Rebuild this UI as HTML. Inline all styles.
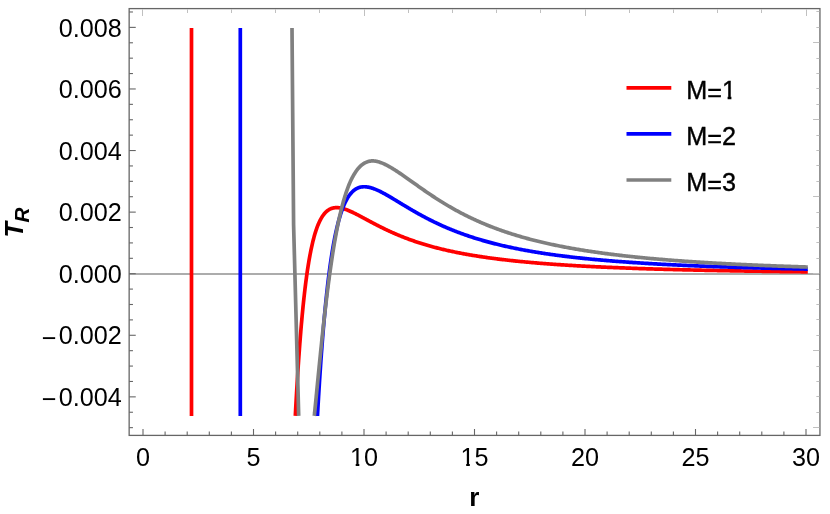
<!DOCTYPE html>
<html><head><meta charset="utf-8"><title>Plot</title>
<style>html,body{margin:0;padding:0;background:#fff;}svg{display:block;will-change:transform;}</style></head>
<body>
<svg width="830" height="514" viewBox="0 0 830 514">
<rect x="0" y="0" width="830" height="514" fill="#ffffff"/>
<line x1="129.15" y1="273.9" x2="819.95" y2="273.9" stroke="#909090" stroke-width="1.45"/>
<path d="M191.5,28.0 L191.5,415.9" fill="none" stroke="#ff0000" stroke-width="3.7" stroke-linecap="butt" stroke-linejoin="round"/>
<path d="M295.32,415.90 L295.33,415.80 L295.34,415.55 L295.36,415.18 L295.38,414.70 L295.41,414.10 L295.45,413.41 L295.49,412.62 L295.54,411.74 L295.59,410.76 L295.64,409.71 L295.70,408.57 L295.77,407.35 L295.84,406.05 L295.91,404.68 L295.99,403.24 L296.08,401.73 L296.16,400.16 L296.25,398.52 L296.35,396.82 L296.45,395.06 L296.55,393.25 L296.66,391.38 L296.77,389.47 L296.89,387.50 L297.01,385.49 L297.13,383.43 L297.26,381.34 L297.39,379.20 L297.52,377.03 L297.66,374.82 L297.80,372.58 L297.95,370.31 L298.10,368.01 L298.25,365.69 L298.41,363.34 L298.57,360.97 L298.73,358.59 L298.90,356.18 L299.07,353.76 L299.25,351.33 L299.43,348.88 L299.61,346.43 L299.79,343.96 L299.98,341.49 L300.17,339.02 L300.37,336.54 L300.57,334.07 L300.77,331.59 L300.98,329.12 L301.19,326.65 L301.40,324.19 L301.62,321.74 L301.84,319.29 L302.06,316.85 L302.29,314.43 L302.52,312.02 L302.75,309.62 L302.98,307.24 L303.22,304.87 L303.47,302.52 L303.71,300.19 L303.96,297.88 L304.22,295.60 L304.47,293.33 L304.73,291.09 L304.99,288.87 L305.26,286.67 L305.53,284.50 L305.80,282.36 L306.07,280.24 L306.35,278.15 L306.63,276.09 L306.92,274.05 L307.20,272.05 L307.49,270.08 L307.79,268.13 L308.08,266.22 L308.38,264.34 L308.69,262.49 L308.99,260.67 L309.30,258.89 L309.62,257.13 L309.93,255.41 L310.25,253.72 L310.57,252.07 L310.89,250.45 L311.22,248.86 L311.55,247.30 L311.89,245.78 L312.22,244.30 L312.56,242.84 L312.90,241.42 L313.25,240.03 L313.60,238.68 L313.95,237.36 L314.30,236.07 L314.66,234.82 L315.02,233.60 L315.39,232.41 L315.75,231.25 L316.12,230.13 L316.49,229.04 L316.87,227.98 L317.25,226.95 L317.63,225.95 L318.01,224.99 L318.40,224.05 L318.79,223.15 L319.18,222.27 L319.58,221.43 L319.97,220.62 L320.38,219.83 L320.78,219.07 L321.19,218.35 L321.60,217.65 L322.01,216.97 L322.43,216.33 L322.84,215.71 L323.26,215.12 L323.69,214.55 L324.12,214.01 L324.55,213.50 L324.98,213.01 L325.41,212.54 L325.85,212.10 L326.29,211.69 L326.74,211.29 L327.18,210.92 L327.63,210.57 L328.09,210.24 L328.54,209.94 L329.00,209.65 L329.46,209.39 L329.92,209.15 L330.39,208.92 L330.86,208.72 L331.33,208.53 L331.80,208.37 L332.28,208.22 L332.76,208.08 L333.24,207.97 L333.73,207.87 L334.22,207.79 L334.71,207.73 L335.20,207.68 L335.70,207.65 L336.20,207.63 L336.70,207.62 L337.20,207.63 L337.71,207.66 L338.22,207.69 L338.73,207.74 L339.25,207.81 L339.77,207.88 L340.29,207.97 L340.81,208.07 L341.34,208.18 L341.87,208.30 L342.40,208.43 L342.93,208.57 L343.47,208.73 L344.01,208.89 L344.55,209.06 L345.10,209.24 L345.65,209.43 L346.20,209.62 L346.75,209.83 L347.30,210.04 L347.86,210.26 L348.42,210.49 L348.99,210.72 L349.55,210.96 L350.12,211.21 L350.69,211.47 L351.27,211.73 L351.84,211.99 L352.42,212.26 L353.01,212.54 L353.59,212.82 L354.18,213.11 L354.77,213.40 L355.36,213.70 L355.96,214.00 L356.55,214.30 L357.15,214.61 L357.76,214.92 L358.36,215.24 L358.97,215.55 L359.58,215.87 L360.19,216.20 L360.81,216.52 L361.43,216.85 L362.05,217.19 L362.67,217.52 L363.30,217.86 L363.93,218.19 L364.56,218.53 L365.19,218.87 L365.83,219.22 L366.47,219.56 L367.11,219.91 L367.75,220.25 L368.40,220.60 L369.05,220.95 L369.70,221.30 L370.36,221.65 L371.01,222.00 L371.67,222.35 L372.33,222.70 L373.00,223.05 L373.67,223.40 L374.34,223.75 L375.01,224.10 L375.68,224.45 L376.36,224.80 L377.04,225.15 L377.72,225.50 L378.41,225.85 L379.09,226.20 L379.78,226.55 L380.48,226.90 L381.17,227.25 L381.87,227.59 L382.57,227.94 L383.27,228.28 L383.98,228.63 L384.68,228.97 L385.39,229.31 L386.11,229.65 L386.82,229.99 L387.54,230.33 L388.26,230.66 L388.98,231.00 L389.70,231.33 L390.43,231.66 L391.16,231.99 L391.89,232.32 L392.63,232.65 L393.37,232.98 L394.10,233.30 L394.85,233.63 L395.59,233.95 L396.34,234.27 L397.09,234.59 L397.84,234.90 L398.59,235.22 L399.35,235.53 L400.11,235.84 L400.87,236.15 L401.64,236.46 L402.40,236.76 L403.17,237.07 L403.94,237.37 L404.72,237.67 L405.49,237.97 L406.27,238.27 L407.06,238.56 L407.84,238.85 L408.63,239.14 L409.41,239.43 L410.20,239.72 L411.00,240.00 L411.79,240.29 L412.59,240.57 L413.39,240.85 L414.20,241.12 L415.00,241.40 L415.81,241.67 L416.62,241.94 L417.43,242.21 L418.25,242.48 L419.07,242.75 L419.89,243.01 L420.71,243.27 L421.53,243.53 L422.36,243.79 L423.19,244.04 L424.02,244.30 L424.86,244.55 L425.70,244.80 L426.53,245.05 L427.38,245.29 L428.22,245.54 L429.07,245.78 L429.92,246.02 L430.77,246.26 L431.62,246.49 L432.48,246.73 L433.33,246.96 L434.20,247.19 L435.06,247.42 L435.92,247.65 L436.79,247.87 L437.66,248.10 L438.54,248.32 L439.41,248.54 L440.29,248.76 L441.17,248.97 L442.05,249.19 L442.93,249.40 L443.82,249.61 L444.71,249.82 L445.60,250.02 L446.50,250.23 L447.39,250.43 L448.29,250.64 L449.19,250.84 L450.10,251.03 L451.00,251.23 L451.91,251.43 L452.82,251.62 L453.73,251.81 L454.65,252.00 L455.56,252.19 L456.48,252.38 L457.41,252.56 L458.33,252.75 L459.26,252.93 L460.19,253.11 L461.12,253.29 L462.05,253.47 L462.99,253.64 L463.93,253.82 L464.87,253.99 L465.81,254.16 L466.76,254.33 L467.70,254.50 L468.65,254.66 L469.61,254.83 L470.56,254.99 L471.52,255.16 L472.48,255.32 L473.44,255.48 L474.40,255.63 L475.37,255.79 L476.34,255.95 L477.31,256.10 L478.28,256.25 L479.26,256.40 L480.23,256.55 L481.21,256.70 L482.20,256.85 L483.18,257.00 L484.17,257.14 L485.16,257.28 L486.15,257.43 L487.14,257.57 L488.14,257.71 L489.14,257.85 L490.14,257.98 L491.14,258.12 L492.15,258.25 L493.16,258.39 L494.17,258.52 L495.18,258.65 L496.19,258.78 L497.21,258.91 L498.23,259.04 L499.25,259.16 L500.27,259.29 L501.30,259.41 L502.33,259.54 L503.36,259.66 L504.39,259.78 L505.43,259.90 L506.46,260.02 L507.50,260.14 L508.54,260.25 L509.59,260.37 L510.63,260.48 L511.68,260.60 L512.73,260.71 L513.79,260.82 L514.84,260.93 L515.90,261.04 L516.96,261.15 L518.02,261.26 L519.09,261.36 L520.15,261.47 L521.22,261.57 L522.29,261.68 L523.37,261.78 L524.44,261.88 L525.52,261.99 L526.60,262.09 L527.68,262.18 L528.77,262.28 L529.85,262.38 L530.94,262.48 L532.03,262.57 L533.13,262.67 L534.22,262.76 L535.32,262.86 L536.42,262.95 L537.53,263.04 L538.63,263.13 L539.74,263.22 L540.85,263.31 L541.96,263.40 L543.07,263.49 L544.19,263.57 L545.31,263.66 L546.43,263.75 L547.55,263.83 L548.67,263.92 L549.80,264.00 L550.93,264.08 L552.06,264.16 L553.20,264.24 L554.33,264.32 L555.47,264.40 L556.61,264.48 L557.75,264.56 L558.90,264.64 L560.05,264.72 L561.19,264.79 L562.35,264.87 L563.50,264.94 L564.66,265.02 L565.81,265.09 L566.97,265.16 L568.14,265.24 L569.30,265.31 L570.47,265.38 L571.64,265.45 L572.81,265.52 L573.98,265.59 L575.16,265.66 L576.34,265.73 L577.52,265.79 L578.70,265.86 L579.88,265.93 L581.07,265.99 L582.26,266.06 L583.45,266.12 L584.64,266.19 L585.84,266.25 L587.04,266.31 L588.24,266.38 L589.44,266.44 L590.64,266.50 L591.85,266.56 L593.06,266.62 L594.27,266.68 L595.48,266.74 L596.70,266.80 L597.92,266.86 L599.14,266.91 L600.36,266.97 L601.58,267.03 L602.81,267.08 L604.04,267.14 L605.27,267.20 L606.50,267.25 L607.73,267.30 L608.97,267.36 L610.21,267.41 L611.45,267.47 L612.69,267.52 L613.94,267.57 L615.19,267.62 L616.44,267.67 L617.69,267.72 L618.94,267.77 L620.20,267.82 L621.46,267.87 L622.72,267.92 L623.98,267.97 L625.25,268.02 L626.52,268.07 L627.79,268.12 L629.06,268.16 L630.33,268.21 L631.61,268.26 L632.88,268.30 L634.17,268.35 L635.45,268.39 L636.73,268.44 L638.02,268.48 L639.31,268.53 L640.60,268.57 L641.89,268.61 L643.19,268.66 L644.48,268.70 L645.78,268.74 L647.09,268.78 L648.39,268.82 L649.70,268.87 L651.00,268.91 L652.31,268.95 L653.63,268.99 L654.94,269.03 L656.26,269.07 L657.58,269.11 L658.90,269.15 L660.22,269.18 L661.55,269.22 L662.87,269.26 L664.20,269.30 L665.54,269.33 L666.87,269.37 L668.21,269.41 L669.54,269.44 L670.88,269.48 L672.23,269.52 L673.57,269.55 L674.92,269.59 L676.27,269.62 L677.62,269.66 L678.97,269.69 L680.33,269.73 L681.68,269.76 L683.04,269.79 L684.40,269.83 L685.77,269.86 L687.13,269.89 L688.50,269.92 L689.87,269.96 L691.24,269.99 L692.62,270.02 L693.99,270.05 L695.37,270.08 L696.75,270.11 L698.13,270.14 L699.52,270.17 L700.91,270.20 L702.30,270.23 L703.69,270.26 L705.08,270.29 L706.47,270.32 L707.87,270.35 L709.27,270.38 L710.67,270.41 L712.08,270.44 L713.48,270.46 L714.89,270.49 L716.30,270.52 L717.71,270.55 L719.13,270.57 L720.54,270.60 L721.96,270.63 L723.38,270.65 L724.81,270.68 L726.23,270.71 L727.66,270.73 L729.09,270.76 L730.52,270.78 L731.95,270.81 L733.39,270.83 L734.82,270.86 L736.26,270.88 L737.70,270.91 L739.15,270.93 L740.59,270.95 L742.04,270.98 L743.49,271.00 L744.94,271.03 L746.40,271.05 L747.85,271.07 L749.31,271.09 L750.77,271.12 L752.23,271.14 L753.70,271.16 L755.16,271.18 L756.63,271.21 L758.10,271.23 L759.58,271.25 L761.05,271.27 L762.53,271.29 L764.01,271.31 L765.49,271.33 L766.97,271.35 L768.46,271.37 L769.94,271.39 L771.43,271.41 L772.93,271.43 L774.42,271.45 L775.91,271.47 L777.41,271.49 L778.91,271.51 L780.41,271.53 L781.92,271.55 L783.42,271.57 L784.93,271.59 L786.44,271.61 L787.95,271.63 L789.47,271.64 L790.98,271.66 L792.50,271.68 L794.02,271.70 L795.55,271.72 L797.07,271.73 L798.60,271.75 L800.13,271.77 L801.66,271.79 L803.19,271.80 L804.72,271.82 L806.26,271.84 L807.80,271.85" fill="none" stroke="#ff0000" stroke-width="3.7" stroke-linecap="butt" stroke-linejoin="round"/>
<path d="M240.3,28.0 L240.3,415.9" fill="none" stroke="#0000ff" stroke-width="3.7" stroke-linecap="butt" stroke-linejoin="round"/>
<path d="M317.47,415.90 L317.47,415.81 L317.48,415.59 L317.50,415.26 L317.53,414.82 L317.55,414.29 L317.59,413.66 L317.63,412.95 L317.67,412.15 L317.72,411.28 L317.78,410.32 L317.83,409.29 L317.90,408.19 L317.96,407.02 L318.03,405.78 L318.11,404.47 L318.19,403.10 L318.27,401.67 L318.36,400.17 L318.45,398.62 L318.54,397.02 L318.64,395.36 L318.75,393.64 L318.85,391.88 L318.96,390.07 L319.08,388.22 L319.20,386.32 L319.32,384.37 L319.44,382.39 L319.57,380.37 L319.70,378.31 L319.84,376.22 L319.98,374.09 L320.12,371.93 L320.27,369.75 L320.42,367.53 L320.57,365.29 L320.73,363.02 L320.89,360.73 L321.06,358.42 L321.22,356.09 L321.39,353.74 L321.57,351.38 L321.75,349.00 L321.93,346.61 L322.11,344.20 L322.30,341.79 L322.49,339.37 L322.68,336.94 L322.88,334.50 L323.08,332.06 L323.28,329.62 L323.49,327.18 L323.70,324.73 L323.91,322.29 L324.13,319.85 L324.35,317.41 L324.57,314.98 L324.80,312.55 L325.03,310.13 L325.26,307.72 L325.50,305.32 L325.73,302.93 L325.98,300.55 L326.22,298.18 L326.47,295.82 L326.72,293.48 L326.97,291.16 L327.23,288.85 L327.49,286.56 L327.75,284.29 L328.02,282.03 L328.29,279.80 L328.56,277.58 L328.84,275.39 L329.11,273.22 L329.39,271.06 L329.68,268.94 L329.97,266.83 L330.26,264.75 L330.55,262.70 L330.84,260.67 L331.14,258.66 L331.44,256.68 L331.75,254.73 L332.06,252.80 L332.37,250.90 L332.68,249.03 L333.00,247.19 L333.32,245.37 L333.64,243.59 L333.96,241.83 L334.29,240.10 L334.62,238.40 L334.95,236.72 L335.29,235.08 L335.63,233.47 L335.97,231.89 L336.32,230.33 L336.66,228.81 L337.01,227.32 L337.37,225.85 L337.72,224.42 L338.08,223.01 L338.44,221.64 L338.81,220.30 L339.18,218.98 L339.55,217.70 L339.92,216.44 L340.30,215.22 L340.67,214.02 L341.05,212.86 L341.44,211.72 L341.83,210.61 L342.21,209.53 L342.61,208.48 L343.00,207.46 L343.40,206.47 L343.80,205.50 L344.20,204.57 L344.61,203.66 L345.02,202.78 L345.43,201.92 L345.84,201.10 L346.26,200.29 L346.68,199.52 L347.10,198.77 L347.52,198.05 L347.95,197.36 L348.38,196.69 L348.81,196.04 L349.25,195.42 L349.69,194.83 L350.13,194.25 L350.57,193.71 L351.02,193.18 L351.47,192.68 L351.92,192.20 L352.37,191.75 L352.83,191.32 L353.29,190.90 L353.75,190.52 L354.21,190.15 L354.68,189.80 L355.15,189.47 L355.62,189.17 L356.10,188.88 L356.58,188.62 L357.06,188.37 L357.54,188.14 L358.02,187.93 L358.51,187.74 L359.00,187.57 L359.50,187.41 L359.99,187.28 L360.49,187.15 L360.99,187.05 L361.50,186.96 L362.00,186.89 L362.51,186.83 L363.02,186.79 L363.54,186.77 L364.05,186.75 L364.57,186.76 L365.09,186.77 L365.62,186.80 L366.14,186.85 L366.67,186.91 L367.20,186.98 L367.74,187.06 L368.27,187.15 L368.81,187.26 L369.35,187.38 L369.90,187.51 L370.45,187.65 L371.00,187.80 L371.55,187.96 L372.10,188.13 L372.66,188.32 L373.22,188.51 L373.78,188.71 L374.34,188.92 L374.91,189.14 L375.48,189.37 L376.05,189.60 L376.63,189.85 L377.20,190.10 L377.78,190.36 L378.36,190.63 L378.95,190.90 L379.54,191.18 L380.12,191.47 L380.72,191.77 L381.31,192.07 L381.91,192.37 L382.51,192.69 L383.11,193.01 L383.71,193.33 L384.32,193.66 L384.93,193.99 L385.54,194.33 L386.15,194.68 L386.77,195.03 L387.39,195.38 L388.01,195.73 L388.63,196.10 L389.26,196.46 L389.89,196.83 L390.52,197.20 L391.15,197.57 L391.79,197.95 L392.43,198.33 L393.07,198.72 L393.71,199.10 L394.36,199.49 L395.00,199.88 L395.65,200.28 L396.31,200.67 L396.96,201.07 L397.62,201.47 L398.28,201.87 L398.94,202.27 L399.61,202.68 L400.27,203.08 L400.94,203.49 L401.62,203.90 L402.29,204.31 L402.97,204.72 L403.65,205.13 L404.33,205.54 L405.01,205.95 L405.70,206.36 L406.39,206.78 L407.08,207.19 L407.77,207.60 L408.47,208.01 L409.17,208.43 L409.87,208.84 L410.57,209.25 L411.27,209.67 L411.98,210.08 L412.69,210.49 L413.40,210.90 L414.12,211.32 L414.84,211.73 L415.56,212.14 L416.28,212.55 L417.00,212.96 L417.73,213.36 L418.46,213.77 L419.19,214.18 L419.92,214.58 L420.66,214.99 L421.40,215.39 L422.14,215.79 L422.88,216.19 L423.62,216.59 L424.37,216.99 L425.12,217.39 L425.87,217.78 L426.63,218.18 L427.39,218.57 L428.15,218.96 L428.91,219.35 L429.67,219.74 L430.44,220.13 L431.21,220.51 L431.98,220.90 L432.75,221.28 L433.52,221.66 L434.30,222.04 L435.08,222.42 L435.86,222.79 L436.65,223.16 L437.44,223.53 L438.23,223.90 L439.02,224.27 L439.81,224.64 L440.61,225.00 L441.41,225.36 L442.21,225.72 L443.01,226.08 L443.82,226.44 L444.62,226.79 L445.43,227.15 L446.24,227.50 L447.06,227.84 L447.88,228.19 L448.70,228.54 L449.52,228.88 L450.34,229.22 L451.17,229.56 L451.99,229.89 L452.82,230.23 L453.66,230.56 L454.49,230.89 L455.33,231.22 L456.17,231.54 L457.01,231.87 L457.85,232.19 L458.70,232.51 L459.55,232.82 L460.40,233.14 L461.25,233.45 L462.11,233.76 L462.97,234.07 L463.83,234.38 L464.69,234.69 L465.55,234.99 L466.42,235.29 L467.29,235.59 L468.16,235.88 L469.03,236.18 L469.91,236.47 L470.79,236.76 L471.67,237.05 L472.55,237.34 L473.43,237.62 L474.32,237.90 L475.21,238.18 L476.10,238.46 L476.99,238.74 L477.89,239.01 L478.79,239.28 L479.69,239.55 L480.59,239.82 L481.49,240.09 L482.40,240.35 L483.31,240.61 L484.22,240.87 L485.13,241.13 L486.05,241.39 L486.97,241.64 L487.89,241.89 L488.81,242.15 L489.73,242.39 L490.66,242.64 L491.59,242.88 L492.52,243.13 L493.45,243.37 L494.39,243.61 L495.33,243.84 L496.27,244.08 L497.21,244.31 L498.15,244.54 L499.10,244.77 L500.05,245.00 L501.00,245.23 L501.95,245.45 L502.91,245.68 L503.87,245.90 L504.83,246.12 L505.79,246.33 L506.75,246.55 L507.72,246.76 L508.69,246.97 L509.66,247.18 L510.63,247.39 L511.61,247.60 L512.58,247.81 L513.56,248.01 L514.54,248.21 L515.53,248.41 L516.51,248.61 L517.50,248.81 L518.49,249.00 L519.48,249.20 L520.48,249.39 L521.48,249.58 L522.47,249.77 L523.48,249.96 L524.48,250.14 L525.48,250.33 L526.49,250.51 L527.50,250.69 L528.51,250.87 L529.53,251.05 L530.54,251.23 L531.56,251.40 L532.58,251.58 L533.61,251.75 L534.63,251.92 L535.66,252.09 L536.69,252.26 L537.72,252.43 L538.75,252.59 L539.79,252.76 L540.82,252.92 L541.86,253.08 L542.91,253.24 L543.95,253.40 L545.00,253.56 L546.05,253.71 L547.10,253.87 L548.15,254.02 L549.20,254.18 L550.26,254.33 L551.32,254.48 L552.38,254.62 L553.45,254.77 L554.51,254.92 L555.58,255.06 L556.65,255.21 L557.72,255.35 L558.80,255.49 L559.87,255.63 L560.95,255.77 L562.03,255.91 L563.11,256.04 L564.20,256.18 L565.28,256.31 L566.37,256.45 L567.47,256.58 L568.56,256.71 L569.65,256.84 L570.75,256.97 L571.85,257.09 L572.95,257.22 L574.06,257.35 L575.16,257.47 L576.27,257.59 L577.38,257.72 L578.49,257.84 L579.61,257.96 L580.72,258.08 L581.84,258.20 L582.96,258.31 L584.09,258.43 L585.21,258.54 L586.34,258.66 L587.47,258.77 L588.60,258.88 L589.73,259.00 L590.87,259.11 L592.01,259.22 L593.15,259.33 L594.29,259.43 L595.43,259.54 L596.58,259.65 L597.73,259.75 L598.88,259.86 L600.03,259.96 L601.18,260.06 L602.34,260.16 L603.50,260.26 L604.66,260.36 L605.82,260.46 L606.99,260.56 L608.15,260.66 L609.32,260.76 L610.49,260.85 L611.67,260.95 L612.84,261.04 L614.02,261.13 L615.20,261.23 L616.38,261.32 L617.56,261.41 L618.75,261.50 L619.94,261.59 L621.13,261.68 L622.32,261.77 L623.51,261.85 L624.71,261.94 L625.91,262.03 L627.11,262.11 L628.31,262.20 L629.51,262.28 L630.72,262.36 L631.93,262.45 L633.14,262.53 L634.35,262.61 L635.56,262.69 L636.78,262.77 L638.00,262.85 L639.22,262.93 L640.44,263.00 L641.67,263.08 L642.90,263.16 L644.12,263.23 L645.36,263.31 L646.59,263.38 L647.82,263.46 L649.06,263.53 L650.30,263.61 L651.54,263.68 L652.79,263.75 L654.03,263.82 L655.28,263.89 L656.53,263.96 L657.78,264.03 L659.03,264.10 L660.29,264.17 L661.55,264.24 L662.81,264.30 L664.07,264.37 L665.33,264.43 L666.60,264.50 L667.87,264.57 L669.14,264.63 L670.41,264.69 L671.68,264.76 L672.96,264.82 L674.24,264.88 L675.52,264.94 L676.80,265.01 L678.08,265.07 L679.37,265.13 L680.66,265.19 L681.95,265.25 L683.24,265.31 L684.54,265.36 L685.83,265.42 L687.13,265.48 L688.43,265.54 L689.74,265.59 L691.04,265.65 L692.35,265.71 L693.66,265.76 L694.97,265.82 L696.28,265.87 L697.59,265.92 L698.91,265.98 L700.23,266.03 L701.55,266.08 L702.87,266.14 L704.20,266.19 L705.53,266.24 L706.85,266.29 L708.19,266.34 L709.52,266.39 L710.85,266.44 L712.19,266.49 L713.53,266.54 L714.87,266.59 L716.21,266.64 L717.56,266.69 L718.91,266.73 L720.25,266.78 L721.61,266.83 L722.96,266.87 L724.31,266.92 L725.67,266.97 L727.03,267.01 L728.39,267.06 L729.75,267.10 L731.12,267.15 L732.49,267.19 L733.86,267.23 L735.23,267.28 L736.60,267.32 L737.98,267.36 L739.35,267.40 L740.73,267.45 L742.11,267.49 L743.50,267.53 L744.88,267.57 L746.27,267.61 L747.66,267.65 L749.05,267.69 L750.44,267.73 L751.84,267.77 L753.24,267.81 L754.63,267.85 L756.04,267.89 L757.44,267.93 L758.84,267.96 L760.25,268.00 L761.66,268.04 L763.07,268.08 L764.48,268.11 L765.90,268.15 L767.32,268.19 L768.74,268.22 L770.16,268.26 L771.58,268.29 L773.01,268.33 L774.43,268.36 L775.86,268.40 L777.29,268.43 L778.73,268.47 L780.16,268.50 L781.60,268.54 L783.04,268.57 L784.48,268.60 L785.92,268.64 L787.36,268.67 L788.81,268.70 L790.26,268.73 L791.71,268.77 L793.16,268.80 L794.62,268.83 L796.08,268.86 L797.53,268.89 L798.99,268.92 L800.46,268.95 L801.92,268.98 L803.39,269.01 L804.86,269.04 L806.33,269.07 L807.80,269.10" fill="none" stroke="#0000ff" stroke-width="3.7" stroke-linecap="butt" stroke-linejoin="round"/>
<path d="M292.0,28.0 L293.6,225 L298.7,415.9" fill="none" stroke="#808080" stroke-width="3.7" stroke-linecap="butt" stroke-linejoin="round"/>
<path d="M314.31,415.90 L314.32,415.85 L314.33,415.73 L314.35,415.54 L314.37,415.30 L314.40,415.01 L314.44,414.66 L314.48,414.26 L314.52,413.82 L314.57,413.32 L314.63,412.79 L314.68,412.20 L314.75,411.57 L314.81,410.90 L314.89,410.18 L314.96,409.42 L315.04,408.61 L315.12,407.77 L315.21,406.88 L315.30,405.95 L315.40,404.98 L315.50,403.97 L315.60,402.92 L315.71,401.82 L315.82,400.69 L315.94,399.52 L316.06,398.31 L316.18,397.06 L316.30,395.77 L316.43,394.45 L316.57,393.09 L316.70,391.69 L316.84,390.25 L316.99,388.78 L317.14,387.27 L317.29,385.72 L317.44,384.14 L317.60,382.53 L317.76,380.88 L317.93,379.20 L318.10,377.49 L318.27,375.74 L318.44,373.96 L318.62,372.16 L318.80,370.32 L318.99,368.45 L319.18,366.55 L319.37,364.63 L319.56,362.67 L319.76,360.69 L319.96,358.69 L320.17,356.65 L320.38,354.60 L320.59,352.52 L320.80,350.42 L321.02,348.29 L321.24,346.15 L321.47,343.99 L321.69,341.80 L321.92,339.60 L322.16,337.38 L322.40,335.15 L322.64,332.89 L322.88,330.63 L323.13,328.35 L323.37,326.06 L323.63,323.76 L323.88,321.44 L324.14,319.12 L324.40,316.79 L324.67,314.45 L324.94,312.11 L325.21,309.76 L325.48,307.40 L325.76,305.05 L326.04,302.69 L326.32,300.32 L326.61,297.96 L326.89,295.60 L327.19,293.24 L327.48,290.88 L327.78,288.53 L328.08,286.18 L328.38,283.83 L328.69,281.50 L329.00,279.17 L329.31,276.84 L329.63,274.53 L329.94,272.23 L330.27,269.93 L330.59,267.65 L330.92,265.38 L331.25,263.13 L331.58,260.89 L331.91,258.66 L332.25,256.45 L332.59,254.25 L332.94,252.08 L333.29,249.92 L333.64,247.78 L333.99,245.66 L334.34,243.55 L334.70,241.47 L335.06,239.41 L335.43,237.37 L335.79,235.36 L336.16,233.36 L336.54,231.39 L336.91,229.44 L337.29,227.52 L337.67,225.62 L338.05,223.75 L338.44,221.90 L338.83,220.08 L339.22,218.29 L339.62,216.52 L340.01,214.78 L340.41,213.06 L340.82,211.38 L341.22,209.72 L341.63,208.09 L342.04,206.49 L342.46,204.91 L342.87,203.37 L343.29,201.85 L343.71,200.37 L344.14,198.91 L344.57,197.48 L345.00,196.08 L345.43,194.71 L345.86,193.37 L346.30,192.06 L346.74,190.78 L347.19,189.52 L347.63,188.30 L348.08,187.11 L348.53,185.94 L348.99,184.81 L349.44,183.70 L349.90,182.63 L350.37,181.58 L350.83,180.56 L351.30,179.57 L351.77,178.60 L352.24,177.67 L352.72,176.77 L353.20,175.89 L353.68,175.04 L354.16,174.21 L354.65,173.42 L355.13,172.65 L355.62,171.91 L356.12,171.19 L356.62,170.50 L357.11,169.84 L357.62,169.20 L358.12,168.59 L358.63,168.01 L359.14,167.45 L359.65,166.91 L360.16,166.40 L360.68,165.91 L361.20,165.45 L361.72,165.01 L362.25,164.60 L362.77,164.21 L363.30,163.84 L363.84,163.49 L364.37,163.17 L364.91,162.87 L365.45,162.59 L365.99,162.34 L366.54,162.10 L367.08,161.89 L367.63,161.70 L368.19,161.54 L368.74,161.39 L369.30,161.26 L369.86,161.16 L370.42,161.07 L370.99,161.01 L371.56,160.96 L372.13,160.93 L372.70,160.93 L373.28,160.94 L373.85,160.97 L374.44,161.02 L375.02,161.09 L375.60,161.17 L376.19,161.27 L376.78,161.39 L377.38,161.52 L377.97,161.67 L378.57,161.84 L379.17,162.02 L379.77,162.21 L380.38,162.42 L380.99,162.64 L381.60,162.87 L382.21,163.12 L382.83,163.38 L383.44,163.64 L384.06,163.93 L384.69,164.22 L385.31,164.52 L385.94,164.83 L386.57,165.15 L387.20,165.48 L387.84,165.82 L388.47,166.17 L389.11,166.52 L389.76,166.89 L390.40,167.26 L391.05,167.64 L391.70,168.02 L392.35,168.42 L393.00,168.82 L393.66,169.22 L394.32,169.64 L394.98,170.05 L395.65,170.48 L396.31,170.91 L396.98,171.34 L397.65,171.78 L398.33,172.23 L399.00,172.68 L399.68,173.14 L400.36,173.60 L401.05,174.06 L401.73,174.53 L402.42,175.01 L403.11,175.48 L403.81,175.96 L404.50,176.45 L405.20,176.94 L405.90,177.43 L406.60,177.92 L407.31,178.42 L408.02,178.92 L408.73,179.43 L409.44,179.93 L410.15,180.44 L410.87,180.95 L411.59,181.46 L412.31,181.98 L413.03,182.49 L413.76,183.01 L414.49,183.53 L415.22,184.05 L415.95,184.57 L416.69,185.09 L417.43,185.62 L418.17,186.14 L418.91,186.67 L419.66,187.19 L420.41,187.72 L421.16,188.25 L421.91,188.77 L422.66,189.30 L423.42,189.83 L424.18,190.36 L424.94,190.88 L425.70,191.41 L426.47,191.94 L427.24,192.46 L428.01,192.99 L428.78,193.51 L429.56,194.04 L430.34,194.56 L431.12,195.08 L431.90,195.60 L432.69,196.12 L433.47,196.64 L434.26,197.16 L435.06,197.68 L435.85,198.19 L436.65,198.71 L437.45,199.22 L438.25,199.73 L439.05,200.24 L439.86,200.75 L440.66,201.26 L441.48,201.76 L442.29,202.27 L443.10,202.77 L443.92,203.27 L444.74,203.77 L445.56,204.26 L446.39,204.76 L447.21,205.25 L448.04,205.74 L448.87,206.23 L449.71,206.71 L450.54,207.19 L451.38,207.68 L452.22,208.16 L453.06,208.63 L453.91,209.11 L454.76,209.58 L455.61,210.05 L456.46,210.52 L457.31,210.98 L458.17,211.45 L459.03,211.91 L459.89,212.36 L460.75,212.82 L461.61,213.27 L462.48,213.72 L463.35,214.17 L464.22,214.62 L465.10,215.06 L465.98,215.50 L466.85,215.94 L467.74,216.37 L468.62,216.81 L469.50,217.24 L470.39,217.67 L471.28,218.09 L472.18,218.51 L473.07,218.93 L473.97,219.35 L474.87,219.76 L475.77,220.18 L476.67,220.59 L477.58,220.99 L478.49,221.40 L479.40,221.80 L480.31,222.20 L481.22,222.59 L482.14,222.99 L483.06,223.38 L483.98,223.77 L484.90,224.15 L485.83,224.53 L486.76,224.92 L487.69,225.29 L488.62,225.67 L489.56,226.04 L490.49,226.41 L491.43,226.78 L492.37,227.14 L493.32,227.51 L494.26,227.86 L495.21,228.22 L496.16,228.58 L497.12,228.93 L498.07,229.28 L499.03,229.62 L499.99,229.97 L500.95,230.31 L501.91,230.65 L502.88,230.99 L503.85,231.32 L504.82,231.65 L505.79,231.98 L506.76,232.31 L507.74,232.63 L508.72,232.96 L509.70,233.27 L510.68,233.59 L511.67,233.91 L512.66,234.22 L513.65,234.53 L514.64,234.84 L515.63,235.14 L516.63,235.44 L517.63,235.74 L518.63,236.04 L519.63,236.34 L520.64,236.63 L521.65,236.92 L522.66,237.21 L523.67,237.50 L524.68,237.78 L525.70,238.07 L526.72,238.35 L527.74,238.62 L528.76,238.90 L529.79,239.17 L530.81,239.44 L531.84,239.71 L532.87,239.98 L533.91,240.24 L534.94,240.51 L535.98,240.77 L537.02,241.03 L538.06,241.28 L539.11,241.54 L540.16,241.79 L541.20,242.04 L542.26,242.29 L543.31,242.54 L544.36,242.78 L545.42,243.02 L546.48,243.26 L547.54,243.50 L548.61,243.74 L549.67,243.97 L550.74,244.20 L551.81,244.44 L552.88,244.66 L553.96,244.89 L555.03,245.12 L556.11,245.34 L557.19,245.56 L558.28,245.78 L559.36,246.00 L560.45,246.22 L561.54,246.43 L562.63,246.64 L563.73,246.85 L564.82,247.06 L565.92,247.27 L567.02,247.48 L568.12,247.68 L569.23,247.88 L570.33,248.08 L571.44,248.28 L572.55,248.48 L573.67,248.67 L574.78,248.87 L575.90,249.06 L577.02,249.25 L578.14,249.44 L579.26,249.63 L580.39,249.82 L581.52,250.00 L582.65,250.18 L583.78,250.37 L584.92,250.55 L586.05,250.72 L587.19,250.90 L588.33,251.08 L589.47,251.25 L590.62,251.42 L591.77,251.60 L592.91,251.77 L594.07,251.93 L595.22,252.10 L596.37,252.27 L597.53,252.43 L598.69,252.60 L599.85,252.76 L601.02,252.92 L602.18,253.08 L603.35,253.23 L604.52,253.39 L605.69,253.55 L606.87,253.70 L608.05,253.85 L609.22,254.00 L610.40,254.15 L611.59,254.30 L612.77,254.45 L613.96,254.60 L615.15,254.74 L616.34,254.89 L617.53,255.03 L618.73,255.17 L619.93,255.31 L621.12,255.45 L622.33,255.59 L623.53,255.73 L624.74,255.86 L625.94,256.00 L627.15,256.13 L628.37,256.26 L629.58,256.40 L630.80,256.53 L632.01,256.66 L633.23,256.78 L634.46,256.91 L635.68,257.04 L636.91,257.16 L638.14,257.29 L639.37,257.41 L640.60,257.53 L641.84,257.65 L643.07,257.77 L644.31,257.89 L645.55,258.01 L646.80,258.13 L648.04,258.24 L649.29,258.36 L650.54,258.47 L651.79,258.59 L653.04,258.70 L654.30,258.81 L655.56,258.92 L656.82,259.03 L658.08,259.14 L659.34,259.25 L660.61,259.36 L661.87,259.46 L663.14,259.57 L664.42,259.67 L665.69,259.78 L666.97,259.88 L668.25,259.98 L669.53,260.08 L670.81,260.18 L672.09,260.28 L673.38,260.38 L674.67,260.48 L675.96,260.58 L677.25,260.67 L678.55,260.77 L679.84,260.86 L681.14,260.96 L682.44,261.05 L683.74,261.14 L685.05,261.23 L686.36,261.33 L687.67,261.42 L688.98,261.51 L690.29,261.59 L691.60,261.68 L692.92,261.77 L694.24,261.86 L695.56,261.94 L696.89,262.03 L698.21,262.11 L699.54,262.20 L700.87,262.28 L702.20,262.36 L703.53,262.45 L704.87,262.53 L706.21,262.61 L707.54,262.69 L708.89,262.77 L710.23,262.85 L711.58,262.93 L712.92,263.00 L714.27,263.08 L715.62,263.16 L716.98,263.23 L718.33,263.31 L719.69,263.38 L721.05,263.46 L722.41,263.53 L723.78,263.60 L725.14,263.68 L726.51,263.75 L727.88,263.82 L729.25,263.89 L730.63,263.96 L732.00,264.03 L733.38,264.10 L734.76,264.17 L736.14,264.23 L737.53,264.30 L738.91,264.37 L740.30,264.44 L741.69,264.50 L743.08,264.57 L744.48,264.63 L745.87,264.70 L747.27,264.76 L748.67,264.82 L750.07,264.89 L751.48,264.95 L752.88,265.01 L754.29,265.07 L755.70,265.13 L757.12,265.19 L758.53,265.25 L759.95,265.31 L761.36,265.37 L762.78,265.43 L764.21,265.49 L765.63,265.55 L767.06,265.60 L768.49,265.66 L769.92,265.72 L771.35,265.77 L772.78,265.83 L774.22,265.88 L775.66,265.94 L777.10,265.99 L778.54,266.05 L779.98,266.10 L781.43,266.15 L782.88,266.21 L784.33,266.26 L785.78,266.31 L787.23,266.36 L788.69,266.41 L790.15,266.46 L791.61,266.51 L793.07,266.56 L794.53,266.61 L796.00,266.66 L797.47,266.71 L798.94,266.76 L800.41,266.81 L801.88,266.86 L803.36,266.90 L804.84,266.95 L806.32,267.00 L807.80,267.04" fill="none" stroke="#808080" stroke-width="3.7" stroke-linecap="butt" stroke-linejoin="round"/>
<rect x="129.15" y="8.6" width="690.8000000000001" height="426.79999999999995" fill="none" stroke="#666666" stroke-width="1.3"/>
<line x1="143.00" y1="435.4" x2="143.00" y2="429.0" stroke="#666666" stroke-width="1.1"/>
<line x1="165.10" y1="435.4" x2="165.10" y2="431.59999999999997" stroke="#666666" stroke-width="1.1"/>
<line x1="187.20" y1="435.4" x2="187.20" y2="431.59999999999997" stroke="#666666" stroke-width="1.1"/>
<line x1="209.30" y1="435.4" x2="209.30" y2="431.59999999999997" stroke="#666666" stroke-width="1.1"/>
<line x1="231.40" y1="435.4" x2="231.40" y2="431.59999999999997" stroke="#666666" stroke-width="1.1"/>
<line x1="253.50" y1="435.4" x2="253.50" y2="429.0" stroke="#666666" stroke-width="1.1"/>
<line x1="275.60" y1="435.4" x2="275.60" y2="431.59999999999997" stroke="#666666" stroke-width="1.1"/>
<line x1="297.70" y1="435.4" x2="297.70" y2="431.59999999999997" stroke="#666666" stroke-width="1.1"/>
<line x1="319.80" y1="435.4" x2="319.80" y2="431.59999999999997" stroke="#666666" stroke-width="1.1"/>
<line x1="341.90" y1="435.4" x2="341.90" y2="431.59999999999997" stroke="#666666" stroke-width="1.1"/>
<line x1="364.00" y1="435.4" x2="364.00" y2="429.0" stroke="#666666" stroke-width="1.1"/>
<line x1="386.10" y1="435.4" x2="386.10" y2="431.59999999999997" stroke="#666666" stroke-width="1.1"/>
<line x1="408.20" y1="435.4" x2="408.20" y2="431.59999999999997" stroke="#666666" stroke-width="1.1"/>
<line x1="430.30" y1="435.4" x2="430.30" y2="431.59999999999997" stroke="#666666" stroke-width="1.1"/>
<line x1="452.40" y1="435.4" x2="452.40" y2="431.59999999999997" stroke="#666666" stroke-width="1.1"/>
<line x1="474.50" y1="435.4" x2="474.50" y2="429.0" stroke="#666666" stroke-width="1.1"/>
<line x1="496.60" y1="435.4" x2="496.60" y2="431.59999999999997" stroke="#666666" stroke-width="1.1"/>
<line x1="518.70" y1="435.4" x2="518.70" y2="431.59999999999997" stroke="#666666" stroke-width="1.1"/>
<line x1="540.80" y1="435.4" x2="540.80" y2="431.59999999999997" stroke="#666666" stroke-width="1.1"/>
<line x1="562.90" y1="435.4" x2="562.90" y2="431.59999999999997" stroke="#666666" stroke-width="1.1"/>
<line x1="585.00" y1="435.4" x2="585.00" y2="429.0" stroke="#666666" stroke-width="1.1"/>
<line x1="607.10" y1="435.4" x2="607.10" y2="431.59999999999997" stroke="#666666" stroke-width="1.1"/>
<line x1="629.20" y1="435.4" x2="629.20" y2="431.59999999999997" stroke="#666666" stroke-width="1.1"/>
<line x1="651.30" y1="435.4" x2="651.30" y2="431.59999999999997" stroke="#666666" stroke-width="1.1"/>
<line x1="673.40" y1="435.4" x2="673.40" y2="431.59999999999997" stroke="#666666" stroke-width="1.1"/>
<line x1="695.50" y1="435.4" x2="695.50" y2="429.0" stroke="#666666" stroke-width="1.1"/>
<line x1="717.60" y1="435.4" x2="717.60" y2="431.59999999999997" stroke="#666666" stroke-width="1.1"/>
<line x1="739.70" y1="435.4" x2="739.70" y2="431.59999999999997" stroke="#666666" stroke-width="1.1"/>
<line x1="761.80" y1="435.4" x2="761.80" y2="431.59999999999997" stroke="#666666" stroke-width="1.1"/>
<line x1="783.90" y1="435.4" x2="783.90" y2="431.59999999999997" stroke="#666666" stroke-width="1.1"/>
<line x1="806.00" y1="435.4" x2="806.00" y2="429.0" stroke="#666666" stroke-width="1.1"/>
<line x1="142.50" y1="9.2" x2="142.50" y2="16.0" stroke="#c0c0c0" stroke-width="1"/>
<line x1="187.50" y1="9.2" x2="187.50" y2="13.0" stroke="#c0c0c0" stroke-width="1"/>
<line x1="231.50" y1="9.2" x2="231.50" y2="13.0" stroke="#c0c0c0" stroke-width="1"/>
<line x1="275.50" y1="9.2" x2="275.50" y2="13.0" stroke="#c0c0c0" stroke-width="1"/>
<line x1="319.50" y1="9.2" x2="319.50" y2="13.0" stroke="#c0c0c0" stroke-width="1"/>
<line x1="364.50" y1="9.2" x2="364.50" y2="16.0" stroke="#c0c0c0" stroke-width="1"/>
<line x1="408.50" y1="9.2" x2="408.50" y2="13.0" stroke="#c0c0c0" stroke-width="1"/>
<line x1="452.50" y1="9.2" x2="452.50" y2="13.0" stroke="#c0c0c0" stroke-width="1"/>
<line x1="496.50" y1="9.2" x2="496.50" y2="13.0" stroke="#c0c0c0" stroke-width="1"/>
<line x1="540.50" y1="9.2" x2="540.50" y2="13.0" stroke="#c0c0c0" stroke-width="1"/>
<line x1="585.50" y1="9.2" x2="585.50" y2="16.0" stroke="#c0c0c0" stroke-width="1"/>
<line x1="629.50" y1="9.2" x2="629.50" y2="13.0" stroke="#c0c0c0" stroke-width="1"/>
<line x1="673.50" y1="9.2" x2="673.50" y2="13.0" stroke="#c0c0c0" stroke-width="1"/>
<line x1="717.50" y1="9.2" x2="717.50" y2="13.0" stroke="#c0c0c0" stroke-width="1"/>
<line x1="761.50" y1="9.2" x2="761.50" y2="13.0" stroke="#c0c0c0" stroke-width="1"/>
<line x1="806.50" y1="9.2" x2="806.50" y2="16.0" stroke="#c0c0c0" stroke-width="1"/>
<line x1="129.15" y1="427.65" x2="132.95000000000002" y2="427.65" stroke="#666666" stroke-width="1.1"/>
<line x1="819.35" y1="427.50" x2="813.0500000000001" y2="427.50" stroke="#c0c0c0" stroke-width="1"/>
<line x1="129.15" y1="412.25" x2="132.95000000000002" y2="412.25" stroke="#666666" stroke-width="1.1"/>
<line x1="819.35" y1="412.50" x2="816.35" y2="412.50" stroke="#c0c0c0" stroke-width="1"/>
<line x1="129.15" y1="396.86" x2="135.75" y2="396.86" stroke="#666666" stroke-width="1.1"/>
<line x1="819.35" y1="396.50" x2="816.35" y2="396.50" stroke="#c0c0c0" stroke-width="1"/>
<line x1="129.15" y1="381.46" x2="132.95000000000002" y2="381.46" stroke="#666666" stroke-width="1.1"/>
<line x1="819.35" y1="381.50" x2="816.35" y2="381.50" stroke="#c0c0c0" stroke-width="1"/>
<line x1="129.15" y1="366.07" x2="132.95000000000002" y2="366.07" stroke="#666666" stroke-width="1.1"/>
<line x1="819.35" y1="366.50" x2="816.35" y2="366.50" stroke="#c0c0c0" stroke-width="1"/>
<line x1="129.15" y1="350.68" x2="132.95000000000002" y2="350.68" stroke="#666666" stroke-width="1.1"/>
<line x1="819.35" y1="350.50" x2="813.0500000000001" y2="350.50" stroke="#c0c0c0" stroke-width="1"/>
<line x1="129.15" y1="335.28" x2="135.75" y2="335.28" stroke="#666666" stroke-width="1.1"/>
<line x1="819.35" y1="335.50" x2="816.35" y2="335.50" stroke="#c0c0c0" stroke-width="1"/>
<line x1="129.15" y1="319.88" x2="132.95000000000002" y2="319.88" stroke="#666666" stroke-width="1.1"/>
<line x1="819.35" y1="319.50" x2="816.35" y2="319.50" stroke="#c0c0c0" stroke-width="1"/>
<line x1="129.15" y1="304.49" x2="132.95000000000002" y2="304.49" stroke="#666666" stroke-width="1.1"/>
<line x1="819.35" y1="304.50" x2="816.35" y2="304.50" stroke="#c0c0c0" stroke-width="1"/>
<line x1="129.15" y1="289.09" x2="132.95000000000002" y2="289.09" stroke="#666666" stroke-width="1.1"/>
<line x1="819.35" y1="289.50" x2="816.35" y2="289.50" stroke="#c0c0c0" stroke-width="1"/>
<line x1="129.15" y1="273.70" x2="135.75" y2="273.70" stroke="#666666" stroke-width="1.1"/>
<line x1="819.35" y1="273.50" x2="813.0500000000001" y2="273.50" stroke="#c0c0c0" stroke-width="1"/>
<line x1="129.15" y1="258.31" x2="132.95000000000002" y2="258.31" stroke="#666666" stroke-width="1.1"/>
<line x1="819.35" y1="258.50" x2="816.35" y2="258.50" stroke="#c0c0c0" stroke-width="1"/>
<line x1="129.15" y1="242.91" x2="132.95000000000002" y2="242.91" stroke="#666666" stroke-width="1.1"/>
<line x1="819.35" y1="242.50" x2="816.35" y2="242.50" stroke="#c0c0c0" stroke-width="1"/>
<line x1="129.15" y1="227.51" x2="132.95000000000002" y2="227.51" stroke="#666666" stroke-width="1.1"/>
<line x1="819.35" y1="227.50" x2="816.35" y2="227.50" stroke="#c0c0c0" stroke-width="1"/>
<line x1="129.15" y1="212.12" x2="135.75" y2="212.12" stroke="#666666" stroke-width="1.1"/>
<line x1="819.35" y1="212.50" x2="816.35" y2="212.50" stroke="#c0c0c0" stroke-width="1"/>
<line x1="129.15" y1="196.72" x2="132.95000000000002" y2="196.72" stroke="#666666" stroke-width="1.1"/>
<line x1="819.35" y1="196.50" x2="813.0500000000001" y2="196.50" stroke="#c0c0c0" stroke-width="1"/>
<line x1="129.15" y1="181.33" x2="132.95000000000002" y2="181.33" stroke="#666666" stroke-width="1.1"/>
<line x1="819.35" y1="181.50" x2="816.35" y2="181.50" stroke="#c0c0c0" stroke-width="1"/>
<line x1="129.15" y1="165.94" x2="132.95000000000002" y2="165.94" stroke="#666666" stroke-width="1.1"/>
<line x1="819.35" y1="165.50" x2="816.35" y2="165.50" stroke="#c0c0c0" stroke-width="1"/>
<line x1="129.15" y1="150.54" x2="135.75" y2="150.54" stroke="#666666" stroke-width="1.1"/>
<line x1="819.35" y1="150.50" x2="816.35" y2="150.50" stroke="#c0c0c0" stroke-width="1"/>
<line x1="129.15" y1="135.14" x2="132.95000000000002" y2="135.14" stroke="#666666" stroke-width="1.1"/>
<line x1="819.35" y1="135.50" x2="816.35" y2="135.50" stroke="#c0c0c0" stroke-width="1"/>
<line x1="129.15" y1="119.75" x2="132.95000000000002" y2="119.75" stroke="#666666" stroke-width="1.1"/>
<line x1="819.35" y1="119.50" x2="813.0500000000001" y2="119.50" stroke="#c0c0c0" stroke-width="1"/>
<line x1="129.15" y1="104.35" x2="132.95000000000002" y2="104.35" stroke="#666666" stroke-width="1.1"/>
<line x1="819.35" y1="104.50" x2="816.35" y2="104.50" stroke="#c0c0c0" stroke-width="1"/>
<line x1="129.15" y1="88.96" x2="135.75" y2="88.96" stroke="#666666" stroke-width="1.1"/>
<line x1="819.35" y1="88.50" x2="816.35" y2="88.50" stroke="#c0c0c0" stroke-width="1"/>
<line x1="129.15" y1="73.56" x2="132.95000000000002" y2="73.56" stroke="#666666" stroke-width="1.1"/>
<line x1="819.35" y1="73.50" x2="816.35" y2="73.50" stroke="#c0c0c0" stroke-width="1"/>
<line x1="129.15" y1="58.17" x2="132.95000000000002" y2="58.17" stroke="#666666" stroke-width="1.1"/>
<line x1="819.35" y1="58.50" x2="816.35" y2="58.50" stroke="#c0c0c0" stroke-width="1"/>
<line x1="129.15" y1="42.78" x2="132.95000000000002" y2="42.78" stroke="#666666" stroke-width="1.1"/>
<line x1="819.35" y1="42.50" x2="813.0500000000001" y2="42.50" stroke="#c0c0c0" stroke-width="1"/>
<line x1="129.15" y1="27.38" x2="135.75" y2="27.38" stroke="#666666" stroke-width="1.1"/>
<line x1="819.35" y1="27.50" x2="816.35" y2="27.50" stroke="#c0c0c0" stroke-width="1"/>
<line x1="129.15" y1="11.98" x2="132.95000000000002" y2="11.98" stroke="#666666" stroke-width="1.1"/>
<line x1="819.35" y1="11.50" x2="816.35" y2="11.50" stroke="#c0c0c0" stroke-width="1"/>
<g font-family="Liberation Sans, sans-serif" font-size="25.2" fill="#000">
<text transform="translate(143.00,465.7) scale(1,1.05)" text-anchor="middle">0</text>
<text transform="translate(253.50,465.7) scale(1,1.05)" text-anchor="middle">5</text>
<text transform="translate(364.00,465.7) scale(1,1.05)" text-anchor="middle">10</text>
<text transform="translate(474.50,465.7) scale(1,1.05)" text-anchor="middle">15</text>
<text transform="translate(585.00,465.7) scale(1,1.05)" text-anchor="middle">20</text>
<text transform="translate(695.50,465.7) scale(1,1.05)" text-anchor="middle">25</text>
<text transform="translate(806.00,465.7) scale(1,1.05)" text-anchor="middle">30</text>
<text transform="translate(121.8,36.58) scale(1,1.05)" text-anchor="end">0.008</text>
<text transform="translate(121.8,98.16) scale(1,1.05)" text-anchor="end">0.006</text>
<text transform="translate(121.8,159.74) scale(1,1.05)" text-anchor="end">0.004</text>
<text transform="translate(121.8,221.32) scale(1,1.05)" text-anchor="end">0.002</text>
<text transform="translate(121.8,282.90) scale(1,1.05)" text-anchor="end">0.000</text>
<text transform="translate(41.7,346.68) scale(1,1.05)">−</text>
<text transform="translate(121.8,344.48) scale(1,1.05)" text-anchor="end">0.002</text>
<text transform="translate(41.7,408.26) scale(1,1.05)">−</text>
<text transform="translate(121.8,406.06) scale(1,1.05)" text-anchor="end">0.004</text>
<line x1="626.5" y1="87.80" x2="671.3" y2="87.80" stroke="#ff0000" stroke-width="3.7"/>
<text x="686.3" y="98.90" stroke="#000" stroke-width="0.4">M<tspan dy="1.7">=</tspan><tspan dy="-1.7">1</tspan></text>
<line x1="626.5" y1="133.90" x2="671.3" y2="133.90" stroke="#0000ff" stroke-width="3.7"/>
<text x="686.3" y="145.00" stroke="#000" stroke-width="0.4">M<tspan dy="1.7">=</tspan><tspan dy="-1.7">2</tspan></text>
<line x1="626.5" y1="180.00" x2="671.3" y2="180.00" stroke="#808080" stroke-width="3.7"/>
<text x="686.3" y="191.10" stroke="#000" stroke-width="0.4">M<tspan dy="1.7">=</tspan><tspan dy="-1.7">3</tspan></text>
</g>
<rect x="722.15" y="95.50" width="5.45" height="4.60" fill="#fff"/><rect x="731.40" y="95.50" width="4.60" height="4.60" fill="#fff"/>
<rect x="350.25" y="462.50" width="5.45" height="4.40" fill="#fff"/><rect x="359.30" y="462.50" width="4.60" height="4.40" fill="#fff"/>
<rect x="460.75" y="462.50" width="5.45" height="4.40" fill="#fff"/><rect x="469.80" y="462.50" width="4.60" height="4.40" fill="#fff"/>
<text x="474.4" y="505.6" text-anchor="middle" font-family="Liberation Sans, sans-serif" font-weight="bold" font-size="26">r</text>
<g transform="translate(23.2,237.4) rotate(-90)" font-family="Liberation Sans, sans-serif" font-weight="bold" font-style="italic"><text x="0" y="0" font-size="25.5">T</text><text x="15.0" y="5.7" font-size="20.8">R</text></g>
</svg>
</body></html>
